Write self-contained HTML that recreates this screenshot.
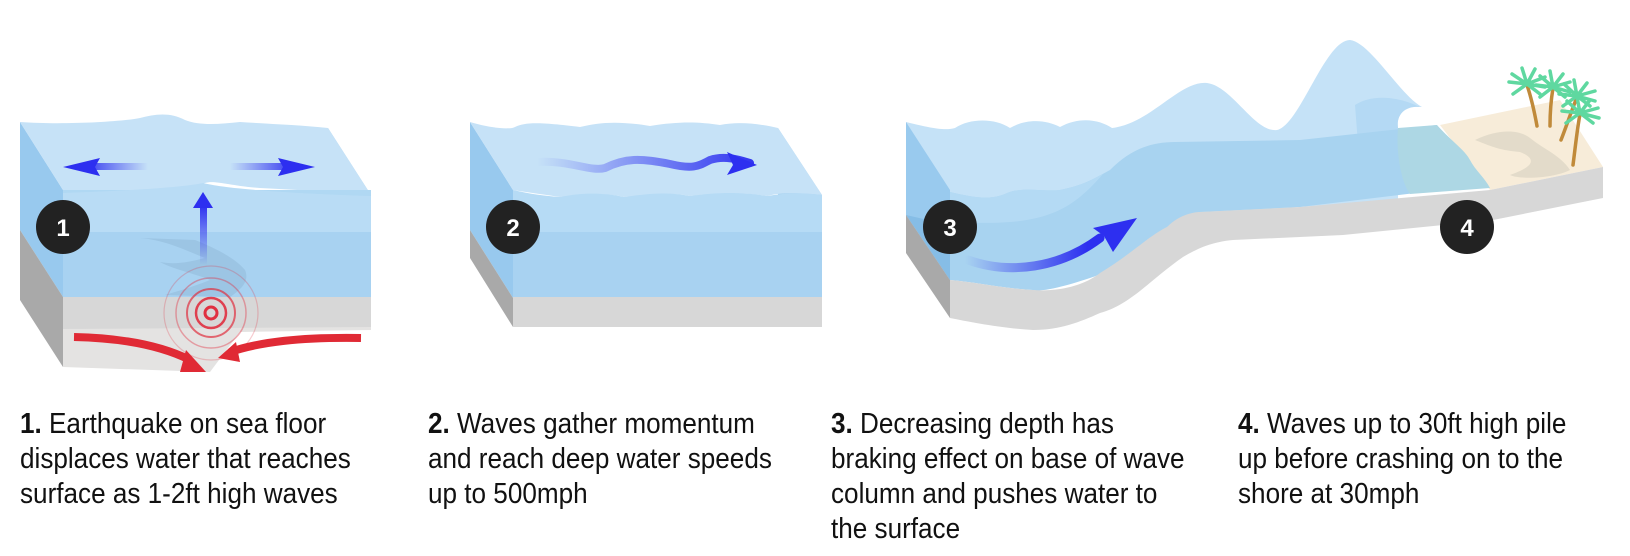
<!DOCTYPE html>
<html><head><meta charset="utf-8"><style>
html,body{margin:0;padding:0;background:#fff;width:1630px;height:556px;overflow:hidden}
svg{position:absolute;left:0;top:0}
.t{position:absolute;font-family:"Liberation Sans Narrow","Liberation Sans",sans-serif;font-size:29px;line-height:35px;color:#111;white-space:nowrap;top:407px;transform:scaleX(0.9);transform-origin:0 0}
.t b{font-weight:bold}
</style></head><body>
<svg width="1630" height="556" viewBox="0 0 1630 556">
<defs>
<linearGradient id="bl" x1="0" x2="1"><stop offset="0" stop-color="#2d2ff0" stop-opacity="1"/><stop offset="1" stop-color="#2d2ff0" stop-opacity="0"/></linearGradient>
<linearGradient id="br" x1="0" x2="1"><stop offset="0" stop-color="#2d2ff0" stop-opacity="0"/><stop offset="1" stop-color="#2d2ff0" stop-opacity="1"/></linearGradient>
<linearGradient id="bu" x1="0" y1="1" x2="0" y2="0"><stop offset="0" stop-color="#2d2ff0" stop-opacity="0"/><stop offset="1" stop-color="#2d2ff0" stop-opacity="1"/></linearGradient>
<linearGradient id="b2" x1="537" x2="760" gradientUnits="userSpaceOnUse"><stop offset="0" stop-color="#2d2ff0" stop-opacity="0"/><stop offset="1" stop-color="#2d2ff0" stop-opacity="1"/></linearGradient>
<linearGradient id="b3" x1="965" x2="1140" gradientUnits="userSpaceOnUse"><stop offset="0" stop-color="#2d2ff0" stop-opacity="0"/><stop offset="0.7" stop-color="#2d2ff0" stop-opacity="1"/></linearGradient>
</defs>

<!-- PANEL 1 -->
<polygon points="20,122 63,190 63,297 20,230" fill="#98c9ee"/>
<polygon points="20,230 63,297 63,367 20,300" fill="#a9a9a9"/>
<polygon points="328,128 371,195 371,297 328,232" fill="#a2cfef"/>
<path d="M20,122 C60,125 120,122 140,118 C155,114 170,112 185,120 C200,126 220,124 240,122 C270,124 300,125 328,128 L371,195 C330,192 300,190 260,188 C230,186 215,180 205,183 C195,188 170,190 140,190 L63,190 Z" fill="#c6e2f7"/>
<rect x="63" y="190" width="308" height="107" fill="#b0d8f3"/>
<path d="M63,193 C150,190 190,186 203,183 C215,186 250,192 371,196 L371,232 L63,232 Z" fill="#b9dcf5"/>
<rect x="63" y="232" width="308" height="65" fill="#a8d2f1"/>
<path d="M140,238 C165,240 185,250 205,258 C190,262 175,265 160,262 C175,270 200,275 210,280 C190,288 175,292 165,295 L230,297 C240,290 250,282 245,270 C235,258 215,248 195,240 Z" fill="#8fb8d8" opacity="0.5"/>
<rect x="63" y="297" width="308" height="32" fill="#d7d7d7"/>
<path d="M63,329 L371,327 L371,330 L240,332 L210,372 L63,367 Z" fill="#e4e3e2"/>
<g fill="none" stroke="#e03040">
<circle cx="211" cy="313" r="6" stroke-width="3"/>
<circle cx="211" cy="313" r="15" stroke-width="2.5" opacity="0.9"/>
<circle cx="211" cy="313" r="24" stroke-width="2" opacity="0.7"/>
<circle cx="211" cy="313" r="35" stroke-width="1.5" opacity="0.4"/>
<circle cx="211" cy="313" r="47" stroke-width="1.2" opacity="0.25"/>
</g>
<path d="M74,337 C120,338 160,345 190,360" stroke="#e02a35" stroke-width="8" fill="none"/>
<polygon points="186,350 206,372 180,372" fill="#e02a35"/>
<path d="M361,338 C300,337 260,342 230,352" stroke="#e02a35" stroke-width="8" fill="none"/>
<polygon points="236,342 218,358 240,362" fill="#e02a35"/>
<rect x="80" y="163" width="68" height="7" fill="url(#bl)"/>
<polygon points="63,167 100,158 95,167 100,176" fill="#2d2ff0"/>
<rect x="230" y="163" width="68" height="7" fill="url(#br)"/>
<polygon points="315,167 278,158 283,167 278,176" fill="#2d2ff0"/>
<rect x="200" y="205" width="7" height="60" fill="url(#bu)"/>
<polygon points="203,192 193,208 213,208" fill="#2d2ff0"/>
<circle cx="63" cy="227" r="27" fill="#222"/>
<text x="63" y="236" font-family="Liberation Sans" font-size="24" font-weight="bold" fill="#fff" text-anchor="middle">1</text>

<!-- PANEL 2 -->
<polygon points="470,122 513,190 513,298 470,230" fill="#98c9ee"/>
<polygon points="470,230 513,298 513,327 470,258" fill="#a9a9a9"/>
<polygon points="778,128 822,195 822,297 778,232" fill="#a2cfef"/>
<path d="M470,122 C490,128 510,130 515,127 C525,122 540,122 580,127 C600,122 620,121 650,126 C680,121 700,122 720,125 C740,121 760,124 778,128 L822,195 C800,193 780,192 768,196 C740,192 720,193 690,196 C670,192 650,195 625,197 C600,192 580,195 560,197 C540,194 525,192 513,190 Z" fill="#c6e2f7"/>
<path d="M513,190 C530,194 545,196 560,197 C580,193 600,192 625,197 C650,193 670,192 690,196 C720,192 740,192 768,196 C790,192 805,193 822,195 L822,297 L513,297 Z" fill="#b6dbf5"/>
<rect x="513" y="232" width="309" height="66" fill="#a8d2f1"/>
<rect x="513" y="297" width="309" height="30" fill="#d7d7d7"/>
<path d="M537,162 C570,160 590,172 605,168 C625,158 640,158 670,164 C695,170 700,165 710,160 C725,155 740,160 750,163" stroke="url(#b2)" stroke-width="8" fill="none" stroke-linecap="round"/>
<polygon points="757,165 727,152 733,165 727,175" fill="#2d2ff0"/>
<circle cx="513" cy="227" r="27" fill="#222"/>
<text x="513" y="236" font-family="Liberation Sans" font-size="24" font-weight="bold" fill="#fff" text-anchor="middle">2</text>

<!-- PANEL 3/4 -->
<path d="M906,122 C930,128 945,131 955,128 C970,118 995,118 1010,128 C1025,119 1045,119 1060,127 C1080,116 1100,120 1112,128 C1150,124 1180,80 1207,83 C1232,86 1255,133 1277,130 C1300,125 1325,40 1350,40 C1370,42 1400,95 1422,107 C1405,105 1396,115 1398,128 L1398,200 L950,232 L906,215 Z" fill="#c5e2f7"/>
<path d="M1355,105 C1370,95 1395,95 1420,107 C1405,105 1396,115 1398,128 L1398,170 L1360,170 Z" fill="#b4d9f4"/>
<polygon points="906,122 950,190 950,280 906,215" fill="#99caee"/>
<polygon points="906,215 950,225 950,280" fill="#86bde6"/>
<polygon points="906,215 950,280 950,318 906,253" fill="#a9a9a9"/>
<path d="M1440,125 L1560,100 L1603,167 L1490,190 Z" fill="#f7ecd9"/>
<path d="M1475,140 C1500,128 1520,130 1530,138 C1545,150 1560,155 1570,170 C1555,178 1520,180 1510,175 C1530,168 1540,160 1520,152 C1500,150 1495,148 1475,140 Z" fill="#ddd7c6" opacity="0.8"/>
<path d="M950,192 C975,198 990,200 1005,194 C1020,186 1045,192 1060,190 C1085,185 1095,178 1110,170 C1130,150 1150,142 1175,142 L1300,140 L1437,125 L1440,190 L1300,207 L1200,212 C1185,214 1175,222 1160,232 C1130,255 1110,272 1090,278 C1060,288 1040,292 1033,290 C1000,288 975,282 950,280 Z" fill="#a8d3f0"/>
<path d="M950,192 C975,198 990,200 1005,194 C1020,186 1045,192 1060,190 C1085,185 1095,178 1103,174 C1080,200 1060,218 1010,222 C985,224 965,222 950,222 Z" fill="#b4daf4"/>
<path d="M1398,128 L1437,125 C1450,140 1465,150 1470,160 C1475,170 1485,178 1490,188 L1410,194 C1400,180 1396,150 1398,128 Z" fill="#add7e4"/>
<path d="M950,280 C975,282 1000,288 1033,290 C1060,292 1085,285 1100,273 C1130,255 1150,235 1167,227 C1180,214 1195,212 1200,212 L1300,207 L1490,190 L1603,167 L1603,198 L1493,220 L1343,235 L1300,237 L1233,240 C1210,242 1195,250 1183,257 C1150,280 1130,305 1100,313 C1080,322 1060,330 1033,330 C1000,328 970,322 950,318 Z" fill="#d7d7d7"/>
<path d="M968,260 C1010,275 1060,268 1100,238" stroke="url(#b3)" stroke-width="9" fill="none" stroke-linecap="round"/>
<polygon points="1137,218 1093,228 1104,236 1113,252" fill="#2d2ff0"/>
<g stroke="#c08a3a" stroke-width="3.5" fill="none" stroke-linecap="round">
<path d="M1527,85 C1532,100 1535,115 1537,126"/>
<path d="M1553,88 C1551,100 1550,115 1550,126"/>
<path d="M1577,97 C1570,115 1565,130 1561,140"/>
<path d="M1580,114 C1577,130 1575,150 1573,165"/>
</g>
<g stroke="#5fd8a0" stroke-width="3.5" stroke-linecap="round" fill="none">
<path d="M1527,84 l-18,-2 M1527,84 l-15,-10 M1527,84 l-5,-16 M1527,84 l8,-15 M1527,84 l18,-7 M1527,84 l18,3 M1527,84 l-14,10 M1527,84 l13,10"/>
<path d="M1553,87 l-17,-2 M1553,87 l-13,-11 M1553,87 l-3,-16 M1553,87 l10,-13 M1553,87 l17,-5 M1553,87 l17,5 M1553,87 l-13,10 M1553,87 l12,10"/>
<path d="M1577,96 l-18,-2 M1577,96 l-13,-12 M1577,96 l-3,-16 M1577,96 l10,-13 M1577,96 l18,-5 M1577,96 l18,5 M1577,96 l-14,10 M1577,96 l13,10"/>
<path d="M1580,113 l-18,-2 M1580,113 l-13,-12 M1580,113 l-3,-16 M1580,113 l10,-13 M1580,113 l18,-5 M1580,113 l19,5 M1580,113 l-14,10 M1580,113 l13,10"/>
</g>
<circle cx="950" cy="227" r="27" fill="#222"/>
<text x="950" y="236" font-family="Liberation Sans" font-size="24" font-weight="bold" fill="#fff" text-anchor="middle">3</text>
<circle cx="1467" cy="227" r="27" fill="#222"/>
<text x="1467" y="236" font-family="Liberation Sans" font-size="24" font-weight="bold" fill="#fff" text-anchor="middle">4</text>
</svg>

<div class="t" style="left:20px"><b>1.</b> Earthquake on sea floor<br>displaces water that reaches<br>surface as 1-2ft high waves</div>
<div class="t" style="left:428px"><b>2.</b> Waves gather momentum<br>and reach deep water speeds<br>up to 500mph</div>
<div class="t" style="left:831px"><b>3.</b> Decreasing depth has<br>braking effect on base of wave<br>column and pushes water to<br>the surface</div>
<div class="t" style="left:1238px"><b>4.</b> Waves up to 30ft high pile<br>up before crashing on to the<br>shore at 30mph</div>
</body></html>
